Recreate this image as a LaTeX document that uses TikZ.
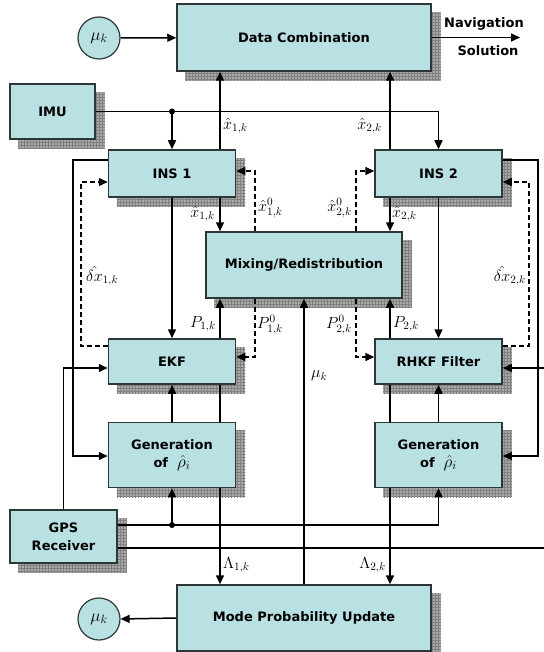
\documentclass[tikz,border=0pt]{standalone}
\usepackage{fontspec}
\setsansfont{DejaVu Sans}
\usetikzlibrary{arrows.meta,calc,patterns}
\pgfdeclarelayer{shadowlayer}
\pgfdeclarelayer{linelayer}
\pgfsetlayers{shadowlayer,linelayer,main}
\definecolor{boxfill}{RGB}{185,225,227}
\definecolor{boxdraw}{RGB}{45,55,55}
\definecolor{shadowfill}{RGB}{170,170,170}
\definecolor{shadowgrid}{RGB}{128,128,128}
\tikzset{
  blk/.style={draw=boxdraw, line width=1.5pt, fill=boxfill, inner sep=0pt, align=center,
    font=\sffamily\bfseries\fontsize{13}{18}\selectfont},
  circ/.style={circle, draw=boxdraw, line width=1.2pt, fill=boxfill, inner sep=0pt,
    minimum size=42pt, font=\LARGE},
  wire/.style={line width=1.5pt, draw=black},
  conn/.style={wire, -{Triangle[length=9pt,width=8pt]}},
  dconn/.style={conn, dash pattern=on 5pt off 3pt},
  dwire/.style={wire, dash pattern=on 5pt off 3pt},
  lab/.style={inner sep=0pt, font=\Large, scale=1.12},
  navtext/.style={inner sep=0pt, font=\sffamily\bfseries\fontsize{13}{15}\selectfont},
  dotmark/.style={circle, fill=black, inner sep=0pt, minimum size=6pt},
}
\newcommand\boxshadow[1]{%
  \begin{pgfonlayer}{shadowlayer}
    \fill[shadowfill] ($(#1.south west)+(9pt,-9pt)$) rectangle ($(#1.north east)+(9pt,-9pt)$);
    \fill[pattern=grid, pattern color=shadowgrid] ($(#1.south west)+(9pt,-9pt)$) rectangle ($(#1.north east)+(9pt,-9pt)$);
  \end{pgfonlayer}}
\newcommand\rhohat{{\LARGE$\hat{\rho}_i$}}
\begin{document}
\begin{tikzpicture}[x=1pt,y=-1pt]
\useasboundingbox (0,0) rectangle (543,652);
% nodes
\node[circ] (mu1) at (99,38) {$\mu_k$};
\node[blk, minimum width=254pt, minimum height=67pt] (dc) at (304,37.5) {Data Combination};
\node[blk, minimum width=85pt, minimum height=55pt] (imu) at (52.5,111.5) {IMU};
\node[blk, minimum width=127pt, minimum height=47pt] (ins1) at (172,173.5) {INS 1};
\node[blk, minimum width=127pt, minimum height=47pt] (ins2) at (438.5,173.5) {INS 2};
\node[blk, minimum width=196pt, minimum height=66pt] (mix) at (304,265) {Mixing/Redistribution};
\node[blk, minimum width=127pt, minimum height=45pt] (ekf) at (172,361.5) {EKF};
\node[blk, minimum width=127pt, minimum height=45pt] (rhkf) at (438.5,361.5) {RHKF Filter};
\node[blk, minimum width=127pt, minimum height=65pt] (gen1) at (172,455) {Generation\\of~ \rhohat};
\node[blk, minimum width=127pt, minimum height=65pt] (gen2) at (438.5,455) {Generation\\of~ \rhohat};
\node[blk, minimum width=107pt, minimum height=53pt] (gps) at (63.5,536.5) {GPS\\Receiver};
\node[blk, minimum width=254pt, minimum height=66pt] (mpu) at (304,618) {Mode Probability Update};
\node[circ] (mu2) at (99,619) {$\mu_k$};
\foreach \n in {dc,imu,ins1,ins2,mix,ekf,rhkf,gen1,gen2,gps,mpu} {\boxshadow{\n}}
% column / row helpers
\coordinate (cA) at (220,0);
\coordinate (cB) at (255,0);
\coordinate (cD) at (356,0);
\coordinate (cE) at (390,0);
\coordinate (cL1) at (81,0);
\coordinate (cL2) at (73,0);
\coordinate (cR1) at (529,0);
\coordinate (cR2) at (538,0);
\coordinate (cRt) at (545,0);
\coordinate (r171) at (0,171);
\coordinate (r182) at (0,182);
\coordinate (r160) at (0,160);
\coordinate (r346) at (0,346);
\coordinate (r357) at (0,357);
\coordinate (r368) at (0,368);
\coordinate (r456) at (0,456);
\coordinate (r525) at (0,525);
\coordinate (r548) at (0,548);
\coordinate (nav) at (520,37.5);
\begin{pgfonlayer}{linelayer}
% top
\draw[conn] (mu1) -- (dc);
\draw[conn] (dc.east) -- (nav);
\draw[conn] (imu.east) -| (ins2.north);
\coordinate (imudot) at (imu.east -| ins1.north);
\draw[conn] (imudot) -- (ins1.north);
\node[dotmark] (d1) at (imudot) {};
\draw[conn] (ins1.north -| cA) -- (dc.south -| cA);
\draw[conn] (ins2.north -| cE) -- (dc.south -| cE);
% INS to mixing
\draw[conn] (ins1.south -| cA) -- (mix.north -| cA);
\draw[conn] (ins2.south -| cE) -- (mix.north -| cE);
\draw[dconn] (mix.north -| cB) -- (cB |- r171) -- (ins1.east |- r171);
\draw[dconn] (mix.north -| cD) -- (cD |- r171) -- (ins2.west |- r171);
% INS to filters
\draw[conn] (ins1.south) -- (ekf.north);
\draw[conn] (ins2.south) -- (rhkf.north);
% filters to mixing
\draw[conn] (ekf.north -| cA) -- (mix.south -| cA);
\draw[conn] (rhkf.north -| cE) -- (mix.south -| cE);
\draw[dconn] (mix.south -| cB) -- (cB |- r357) -- (ekf.east |- r357);
\draw[dconn] (mix.south -| cD) -- (cD |- r357) -- (rhkf.west |- r357);
% error feedback
\draw[dconn] (ekf.west |- r346) -- (cL1 |- r346) -- (cL1 |- r182) -- (ins1.west |- r182);
\draw[dconn] (rhkf.east |- r346) -- (cR1 |- r346) -- (cR1 |- r182) -- (ins2.east |- r182);
% INS to generation
\draw[conn] (ins1.west |- r160) -- (cL2 |- r160) -- (cL2 |- r456) -- (gen1.west |- r456);
\draw[conn] (ins2.east |- r160) -- (cR2 |- r160) -- (cR2 |- r456) -- (gen2.east |- r456);
% GPS
\draw[conn] (gps.north) -- (gps.north |- r368) -- (ekf.west |- r368);
\draw[conn] (cRt |- r368) -- (rhkf.east |- r368);
\draw[conn] (gps.east |- r525) -- (gen2.south |- r525) -- (gen2.south);
\coordinate (gpsdot) at (gen1.south |- r525);
\draw[conn] (gpsdot) -- (gen1.south);
\node[dotmark] (d2) at (gpsdot) {};
\draw[wire] (gps.east |- r548) -- (cRt |- r548);
% generation to filters
\draw[conn] (gen1.north) -- (ekf.south);
\draw[conn] (gen2.north) -- (rhkf.south);
% filters to mode probability
\draw[conn] (ekf.south -| cA) -- (mpu.north -| cA);
\draw[conn] (rhkf.south -| cE) -- (mpu.north -| cE);
\draw[conn] (mpu.north) -- (mix.south);
\draw[conn] (mpu.west) -- (mu2.east);
\end{pgfonlayer}
% labels
\node[navtext] (navl) at (484,24) {Navigation};
\node[navtext] (soll) at (488,51) {Solution};
\node[lab, anchor=west] (lx1a) at (223,126) {$\hat{x}_{1,k}$};
\node[lab, anchor=east] (lx2a) at (382,126) {$\hat{x}_{2,k}$};
\node[lab, anchor=east] (lx1b) at (215,214) {$\hat{x}_{1,k}$};
\node[lab, anchor=west] (lx2b) at (392,214) {$\hat{x}_{2,k}$};
\node[lab, anchor=west] (lx10) at (258,208) {$\hat{x}^{0}_{1,k}$};
\node[lab, anchor=east] (lx20) at (352,208) {$\hat{x}^{0}_{2,k}$};
\node[lab, anchor=east] (lP1) at (216,324) {$P_{1,k}$};
\node[lab, anchor=west] (lP2) at (393,324) {$P_{2,k}$};
\node[lab, anchor=west] (lP10) at (257,325) {$P^{0}_{1,k}$};
\node[lab, anchor=east] (lP20) at (352,325) {$P^{0}_{2,k}$};
\node[lab, anchor=west] (ldx1) at (86,276) {$\hat{\delta x}_{1,k}$};
\node[lab, anchor=east] (ldx2) at (526,276) {$\hat{\delta x}_{2,k}$};
\node[lab, anchor=west] (lmu) at (311,376) {$\mu_k$};
\node[lab, anchor=west] (lL1) at (223,565) {$\Lambda_{1,k}$};
\node[lab, anchor=east] (lL2) at (386,565) {$\Lambda_{2,k}$};
\end{tikzpicture}
\end{document}
